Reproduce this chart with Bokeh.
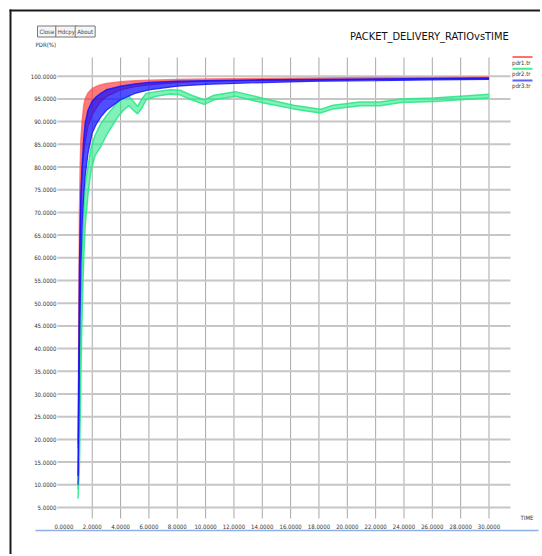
from bokeh.plotting import figure
from bokeh.models import (Range1d, LinearAxis, FixedTicker, NumeralTickFormatter, Label,
                          BoxAnnotation)
from bokeh.embed import file_html
from bokeh.resources import INLINE

# ---------------- data ----------------
TITLE = "PACKET_DELIVERY_RATIOvsTIME"
Y_LABEL = "PDR(%)"
X_LABEL = "TIME"
BUTTONS = ["Close", "Hdcpy", "About"]
SERIES_NAMES = ["pdr1.tr", "pdr2.tr", "pdr3.tr"]
SERIES_COLORS = ["#ff2020", "#2ee88a", "#1414ff"]

X_TICKS = [0, 2, 4, 6, 8, 10, 12, 14, 16, 18, 20, 22, 24, 26, 28, 30]
X_GRID = [2, 4, 6, 8, 10, 12, 14, 16, 18, 20, 22, 24, 26, 28, 30]
Y_TICKS = [5, 10, 15, 20, 25, 30, 35, 40, 45, 50, 55, 60, 65, 70, 75, 80, 85, 90, 95, 100]

# pdr1.tr (red) : jitter envelope, low / high
T_RED = [1.00, 1.05, 1.10, 1.15, 1.20, 1.30, 1.40, 1.50, 1.70, 2.00, 2.50, 3.00, 4.00, 5.00,
         6.00, 8.00, 10.0, 14.0, 18.0, 22.0, 26.0, 30.0]
RED_HI = [19.0, 45.0, 70.0, 80.0, 86.0, 90.5, 93.5, 95.0, 96.3, 97.3, 98.0, 98.4, 98.8, 99.0,
          99.1, 99.3, 99.4, 99.5, 99.6, 99.7, 99.7, 99.8]
RED_LO = [18.0, 30.0, 52.0, 65.0, 74.0, 80.0, 83.0, 85.5, 89.0, 91.5, 94.0, 95.5, 97.0, 97.7,
          98.1, 98.6, 98.9, 99.1, 99.2, 99.3, 99.4, 99.5]

# pdr2.tr (green)
T_GREEN = [1.00, 1.10, 1.20, 1.30, 1.40, 1.50, 1.70, 1.90, 2.20, 2.60, 3.00, 3.40, 3.80, 4.20,
           4.60, 4.90, 5.20, 5.50, 5.80, 6.50, 7.50, 8.20, 9.00, 9.90, 10.6, 12.1, 14.1, 16.2,
           18.1, 19.0, 20.9, 22.3, 23.8, 26.1, 28.5, 30.0]
GREEN_LO = [7.0, 15.0, 35.0, 50.0, 60.0, 67.0, 74.0, 79.0, 82.5, 84.5, 87.0, 89.0, 91.0, 92.5,
            93.5, 92.5, 91.7, 93.0, 94.8, 95.6, 96.1, 95.9, 94.8, 93.8, 94.8, 95.6, 94.1, 92.8,
            91.9, 92.8, 93.5, 93.5, 94.2, 94.4, 94.9, 95.2]
GREEN_HI = [9.0, 25.0, 50.0, 62.0, 70.0, 76.0, 80.0, 84.0, 87.0, 89.5, 91.3, 92.8, 94.3, 95.0,
            95.6, 94.5, 93.3, 95.0, 96.2, 96.6, 97.0, 96.9, 95.8, 94.8, 95.8, 96.6, 95.1, 93.6,
            92.7, 93.6, 94.3, 94.3, 95.0, 95.2, 95.7, 96.0]

# pdr3.tr (blue)
T_BLUE = [1.00, 1.05, 1.10, 1.20, 1.30, 1.40, 1.50, 1.70, 2.00, 2.30, 2.60, 3.00, 4.00, 5.00,
          6.00, 8.00, 10.0, 14.0, 18.0, 22.0, 26.0, 30.0]
BLUE_HI = [12.0, 35.0, 58.0, 74.0, 81.0, 86.0, 89.5, 92.5, 94.5, 95.5, 96.2, 97.0, 97.8, 98.3,
           98.6, 98.9, 99.0, 99.2, 99.3, 99.4, 99.5, 99.6]
BLUE_LO = [10.0, 22.0, 40.0, 58.0, 68.0, 74.0, 78.0, 83.0, 87.5, 89.5, 91.0, 92.5, 94.8, 96.2,
           97.0, 97.8, 98.2, 98.6, 98.9, 99.0, 99.2, 99.3]

# ---------------- layout ----------------
W, H = 540, 554
X_ZERO, X_SCALE = 63.4, 14.17     # canvas px of t=0, px per unit
Y_ZERO, Y_SCALE = 529.7, 4.54     # canvas px of v=0, px per unit
NARROW = "Liberation Sans Narrow, DejaVu Sans Condensed, Arial Narrow, sans-serif"


def tx(px):
    return (px - X_ZERO) / X_SCALE


def vy(py):
    return (Y_ZERO - py) / Y_SCALE


def canvas_xy(px, py):
    return px, H - py


p = figure(width=W, height=H, output_backend="svg", toolbar_location=None,
           x_range=Range1d(tx(0), tx(W)), y_range=Range1d(vy(H), vy(0)),
           x_axis_type=None, y_axis_type=None, min_border=0, title=None)
p.outline_line_color = None
p.background_fill_color = "white"
p.border_fill_color = "white"
p.xgrid.visible = False
p.ygrid.visible = False

# grid lines
p.segment(x0=X_GRID, y0=[vy(518)] * len(X_GRID), x1=X_GRID, y1=[vy(57)] * len(X_GRID),
          line_color="#a8a8a8", line_width=1)
p.segment(x0=[tx(57)] * len(Y_TICKS), y0=Y_TICKS, x1=[tx(510)] * len(Y_TICKS), y1=Y_TICKS,
          line_color="#c6c6c6", line_width=2)

# series
p.varea(x=T_GREEN, y1=GREEN_LO, y2=GREEN_HI, fill_color=SERIES_COLORS[1], fill_alpha=0.6)
p.line(T_GREEN, GREEN_HI, line_color=SERIES_COLORS[1], line_width=1.5, line_alpha=0.9)
p.line(T_GREEN, GREEN_LO, line_color=SERIES_COLORS[1], line_width=1.5, line_alpha=0.9)

p.varea(x=T_RED, y1=RED_LO, y2=RED_HI, fill_color=SERIES_COLORS[0], fill_alpha=0.6)
p.line(T_RED, RED_HI, line_color="#ff6060", line_width=1.5, line_alpha=0.8)
p.line(T_RED, RED_LO, line_color=SERIES_COLORS[0], line_width=1.2, line_alpha=0.8)

p.varea(x=T_BLUE, y1=BLUE_LO, y2=BLUE_HI, fill_color=SERIES_COLORS[2], fill_alpha=0.75)
p.line(T_BLUE, BLUE_HI, line_color=SERIES_COLORS[2], line_width=1.5, line_alpha=0.85)
p.line(T_BLUE, BLUE_LO, line_color=SERIES_COLORS[2], line_width=1.2, line_alpha=0.85)

# axes
yax = LinearAxis(ticker=FixedTicker(ticks=Y_TICKS), formatter=NumeralTickFormatter(format="0.0000"),
                 fixed_location=tx(57), axis_line_color=None, major_tick_line_color=None,
                 minor_tick_line_color=None, major_tick_in=0, major_tick_out=0,
                 major_label_standoff=1, major_label_text_font=NARROW,
                 major_label_text_font_size="6px", major_label_text_color="#333333")
p.add_layout(yax, "left")

xax = LinearAxis(ticker=FixedTicker(ticks=X_TICKS), formatter=NumeralTickFormatter(format="0.0000"),
                 fixed_location=0, bounds=(tx(35), tx(538)), axis_line_color="#8fb0e6",
                 axis_line_width=1.5, major_tick_line_color=None, minor_tick_line_color=None,
                 major_tick_in=0, major_tick_out=0, major_label_standoff=1,
                 major_label_text_font=NARROW, major_label_text_font_size="6px",
                 major_label_text_color="#333333")
p.add_layout(xax, "above")

# legend (line above its label, as in the reference)
LEG_LINE_COLORS = ["#ff7070", "#40f090", "#6060ff"]
leg_py = [56.5, 68.3, 80.0]
p.segment(x0=[tx(512)] * 3, y0=[vy(y) for y in leg_py], x1=[tx(532)] * 3,
          y1=[vy(y) for y in leg_py], line_color=LEG_LINE_COLORS, line_width=2)
for name, y in zip(SERIES_NAMES, leg_py):
    lx, ly = canvas_xy(511.5, y + 1.5)
    p.add_layout(Label(x=lx, y=ly, x_units="screen", y_units="screen", text=name,
                       text_align="left", text_baseline="top", text_font=NARROW,
                       text_font_size="6px", text_color="#333333"))

# title and texts
lx, ly = canvas_xy(508.3, 35.5)
p.add_layout(Label(x=lx, y=ly, x_units="screen", y_units="screen", text=TITLE,
                   text_align="right", text_baseline="middle", text_font=NARROW,
                   text_font_size="11px", text_color="#111111"))
lx, ly = canvas_xy(35, 44)
p.add_layout(Label(x=lx, y=ly, x_units="screen", y_units="screen", text=Y_LABEL,
                   text_align="left", text_baseline="middle", text_font=NARROW,
                   text_font_size="6px", text_color="#333333"))
lx, ly = canvas_xy(520, 516.5)
p.add_layout(Label(x=lx, y=ly, x_units="screen", y_units="screen", text=X_LABEL,
                   text_align="left", text_baseline="middle", text_font=NARROW,
                   text_font_size="6px", text_color="#333333"))
for name, left in zip(BUTTONS, [37.0, 55.3, 74.7]):
    bx, by = canvas_xy(left, 31)
    p.add_layout(Label(x=bx, y=by, x_units="screen", y_units="screen", text=name,
                       text_align="left", text_baseline="middle", text_font=NARROW,
                       text_font_size="6px", text_color="#444444", padding=2,
                       border_line_color="#777777", border_line_width=1,
                       background_fill_color="#f6f6f6"))

# window frame lines (top and left)
p.add_layout(BoxAnnotation(left=tx(9), right=tx(11), bottom=vy(H + 5), top=vy(9),
                           fill_color="#1a1a1a", fill_alpha=1, line_color=None))
p.add_layout(BoxAnnotation(left=tx(9), right=tx(W + 5), bottom=vy(11), top=vy(9),
                           fill_color="#1a1a1a", fill_alpha=1, line_color=None))

open("out.html", "w").write(file_html(p, INLINE))
